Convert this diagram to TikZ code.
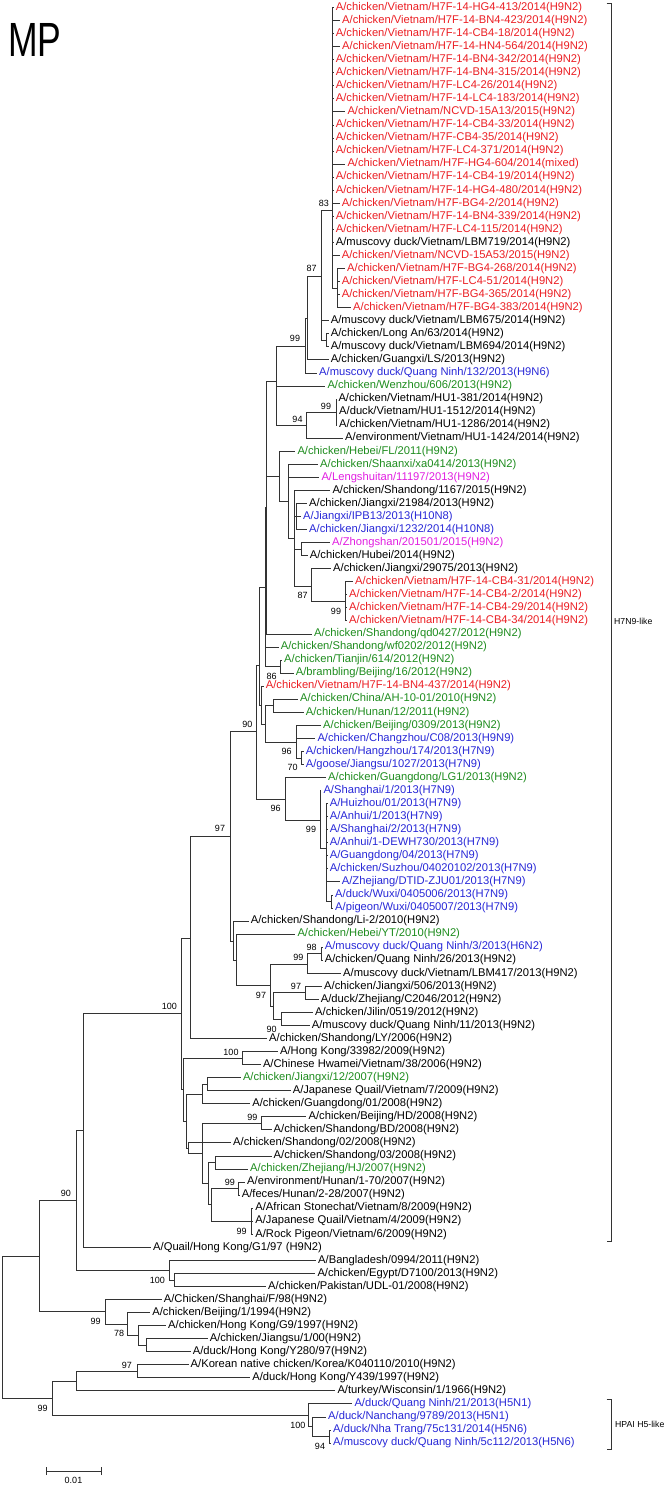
\documentclass[tikz,border=0pt]{standalone}
\usepackage{fontspec}
\setmainfont{Liberation Sans}
\definecolor{vnred}{RGB}{235,30,35}
\definecolor{vnblue}{RGB}{40,40,215}
\definecolor{vngreen}{RGB}{30,140,30}
\definecolor{vnpink}{RGB}{225,30,225}
\begin{document}
\begin{tikzpicture}[x=1pt,y=-1pt,
  br/.style={line width=0.8pt,black!80},
  leaf/.style={anchor=west,inner xsep=2pt,inner ysep=0pt,text height=8pt,text depth=2.4pt,font=\fontsize{11.2}{12}\selectfont},
  redleaf/.style={leaf,text=vnred},
  blueleaf/.style={leaf,text=vnblue},
  greenleaf/.style={leaf,text=vngreen},
  pinkleaf/.style={leaf,text=vnpink},
  bs/.style={inner sep=0pt,font=\fontsize{9}{10}\selectfont},
  clade/.style={anchor=west,inner sep=0pt,font=\fontsize{8.7}{10}\selectfont}]
\useasboundingbox (0,0) rectangle (667,1485);

\node[anchor=base west,inner sep=0pt,font=\fontsize{48}{48}\selectfont] (mp) at (8,57) {\scalebox{0.74}[1]{MP}};

% leaves
\node[redleaf] (l1) at (333.7,7.5) {A/chicken/Vietnam/H7F-14-HG4-413/2014(H9N2)};
\node[redleaf] (l2) at (340,20.55) {A/chicken/Vietnam/H7F-14-BN4-423/2014(H9N2)};
\node[redleaf] (l3) at (333.7,33.6) {A/chicken/Vietnam/H7F-14-CB4-18/2014(H9N2)};
\node[redleaf] (l4) at (340,46.65) {A/chicken/Vietnam/H7F-14-HN4-564/2014(H9N2)};
\node[redleaf] (l5) at (333.7,59.7) {A/chicken/Vietnam/H7F-14-BN4-342/2014(H9N2)};
\node[redleaf] (l6) at (333.7,72.75) {A/chicken/Vietnam/H7F-14-BN4-315/2014(H9N2)};
\node[redleaf] (l7) at (333.7,85.8) {A/chicken/Vietnam/H7F-LC4-26/2014(H9N2)};
\node[redleaf] (l8) at (333.7,98.85) {A/chicken/Vietnam/H7F-14-LC4-183/2014(H9N2)};
\node[redleaf] (l9) at (345.3,111.9) {A/chicken/Vietnam/NCVD-15A13/2015(H9N2)};
\node[redleaf] (l10) at (333.7,124.95) {A/chicken/Vietnam/H7F-14-CB4-33/2014(H9N2)};
\node[redleaf] (l11) at (333.7,138) {A/chicken/Vietnam/H7F-CB4-35/2014(H9N2)};
\node[redleaf] (l12) at (333.7,151.05) {A/chicken/Vietnam/H7F-LC4-371/2014(H9N2)};
\node[redleaf] (l13) at (345.3,164.1) {A/chicken/Vietnam/H7F-HG4-604/2014(mixed)};
\node[redleaf] (l14) at (333.7,177.15) {A/chicken/Vietnam/H7F-14-CB4-19/2014(H9N2)};
\node[redleaf] (l15) at (333.7,190.2) {A/chicken/Vietnam/H7F-14-HG4-480/2014(H9N2)};
\node[redleaf] (l16) at (339.7,203.25) {A/chicken/Vietnam/H7F-BG4-2/2014(H9N2)};
\node[redleaf] (l17) at (333.7,216.3) {A/chicken/Vietnam/H7F-14-BN4-339/2014(H9N2)};
\node[redleaf] (l18) at (333.7,229.35) {A/chicken/Vietnam/H7F-LC4-115/2014(H9N2)};
\node[leaf] (l19) at (333.7,242.4) {A/muscovy duck/Vietnam/LBM719/2014(H9N2)};
\node[redleaf] (l20) at (339.7,255.45) {A/chicken/Vietnam/NCVD-15A53/2015(H9N2)};
\node[redleaf] (l21) at (345,268.5) {A/chicken/Vietnam/H7F-BG4-268/2014(H9N2)};
\node[redleaf] (l22) at (339.7,281.55) {A/chicken/Vietnam/H7F-LC4-51/2014(H9N2)};
\node[redleaf] (l23) at (339.7,294.6) {A/chicken/Vietnam/H7F-BG4-365/2014(H9N2)};
\node[redleaf] (l24) at (351,307.65) {A/chicken/Vietnam/H7F-BG4-383/2014(H9N2)};
\node[leaf] (l25) at (328.7,320.7) {A/muscovy duck/Vietnam/LBM675/2014(H9N2)};
\node[leaf] (l26) at (328.7,333.75) {A/chicken/Long An/63/2014(H9N2)};
\node[leaf] (l27) at (328.7,346.8) {A/muscovy duck/Vietnam/LBM694/2014(H9N2)};
\node[leaf] (l28) at (328.7,359.85) {A/chicken/Guangxi/LS/2013(H9N2)};
\node[blueleaf] (l29) at (317,372.9) {A/muscovy duck/Quang Ninh/132/2013(H9N6)};
\node[greenleaf] (l30) at (325.3,385.95) {A/chicken/Wenzhou/606/2013(H9N2)};
\node[leaf] (l31) at (336.3,399) {A/chicken/Vietnam/HU1-381/2014(H9N2)};
\node[leaf] (l32) at (337,412.05) {A/duck/Vietnam/HU1-1512/2014(H9N2)};
\node[leaf] (l33) at (337,425.1) {A/chicken/Vietnam/HU1-1286/2014(H9N2)};
\node[leaf] (l34) at (343,438.15) {A/environment/Vietnam/HU1-1424/2014(H9N2)};
\node[greenleaf] (l35) at (295.3,451.2) {A/chicken/Hebei/FL/2011(H9N2)};
\node[greenleaf] (l36) at (318,464.25) {A/chicken/Shaanxi/xa0414/2013(H9N2)};
\node[pinkleaf] (l37) at (319.3,477.3) {A/Lengshuitan/11197/2013(H9N2)};
\node[leaf] (l38) at (330.3,490.35) {A/chicken/Shandong/1167/2015(H9N2)};
\node[leaf] (l39) at (307,503.4) {A/chicken/Jiangxi/21984/2013(H9N2)};
\node[blueleaf] (l40) at (301,516.45) {A/Jiangxi/IPB13/2013(H10N8)};
\node[blueleaf] (l41) at (307,529.5) {A/chicken/Jiangxi/1232/2014(H10N8)};
\node[pinkleaf] (l42) at (330,542.55) {A/Zhongshan/201501/2015(H9N2)};
\node[leaf] (l43) at (307.7,555.6) {A/chicken/Hubei/2014(H9N2)};
\node[leaf] (l44) at (331,568.65) {A/chicken/Jiangxi/29075/2013(H9N2)};
\node[redleaf] (l45) at (353,581.7) {A/chicken/Vietnam/H7F-14-CB4-31/2014(H9N2)};
\node[redleaf] (l46) at (347,594.75) {A/chicken/Vietnam/H7F-14-CB4-2/2014(H9N2)};
\node[redleaf] (l47) at (347,607.8) {A/chicken/Vietnam/H7F-14-CB4-29/2014(H9N2)};
\node[redleaf] (l48) at (347,620.85) {A/chicken/Vietnam/H7F-14-CB4-34/2014(H9N2)};
\node[greenleaf] (l49) at (312,633.9) {A/chicken/Shandong/qd0427/2012(H9N2)};
\node[greenleaf] (l50) at (278.7,646.95) {A/chicken/Shandong/wf0202/2012(H9N2)};
\node[greenleaf] (l51) at (282,660) {A/chicken/Tianjin/614/2012(H9N2)};
\node[greenleaf] (l52) at (293.7,673.05) {A/brambling/Beijing/16/2012(H9N2)};
\node[redleaf] (l53) at (263.7,686.1) {A/chicken/Vietnam/H7F-14-BN4-437/2014(H9N2)};
\node[greenleaf] (l54) at (298,699.15) {A/chicken/China/AH-10-01/2010(H9N2)};
\node[greenleaf] (l55) at (303.7,712.2) {A/chicken/Hunan/12/2011(H9N2)};
\node[greenleaf] (l56) at (321,725.25) {A/chicken/Beijing/0309/2013(H9N2)};
\node[blueleaf] (l57) at (315.3,738.3) {A/chicken/Changzhou/C08/2013(H9N9)};
\node[blueleaf] (l58) at (303.7,751.35) {A/chicken/Hangzhou/174/2013(H7N9)};
\node[blueleaf] (l59) at (303.7,764.4) {A/goose/Jiangsu/1027/2013(H7N9)};
\node[greenleaf] (l60) at (326,777.45) {A/chicken/Guangdong/LG1/2013(H9N2)};
\node[blueleaf] (l61) at (321.3,790.5) {A/Shanghai/1/2013(H7N9)};
\node[blueleaf] (l62) at (327.7,803.55) {A/Huizhou/01/2013(H7N9)};
\node[blueleaf] (l63) at (327.7,816.6) {A/Anhui/1/2013(H7N9)};
\node[blueleaf] (l64) at (327.7,829.65) {A/Shanghai/2/2013(H7N9)};
\node[blueleaf] (l65) at (327.7,842.7) {A/Anhui/1-DEWH730/2013(H7N9)};
\node[blueleaf] (l66) at (327.7,855.75) {A/Guangdong/04/2013(H7N9)};
\node[blueleaf] (l67) at (327.7,868.8) {A/chicken/Suzhou/04020102/2013(H7N9)};
\node[blueleaf] (l68) at (339.7,881.85) {A/Zhejiang/DTID-ZJU01/2013(H7N9)};
\node[blueleaf] (l69) at (333,894.9) {A/duck/Wuxi/0405006/2013(H7N9)};
\node[blueleaf] (l70) at (333,907.95) {A/pigeon/Wuxi/0405007/2013(H7N9)};
\node[leaf] (l71) at (248.7,921) {A/chicken/Shandong/Li-2/2010(H9N2)};
\node[greenleaf] (l72) at (295.3,934.05) {A/chicken/Hebei/YT/2010(H9N2)};
\node[blueleaf] (l73) at (322.7,947.1) {A/muscovy duck/Quang Ninh/3/2013(H6N2)};
\node[leaf] (l74) at (322.7,960.15) {A/chicken/Quang Ninh/26/2013(H9N2)};
\node[leaf] (l75) at (341,973.2) {A/muscovy duck/Vietnam/LBM417/2013(H9N2)};
\node[leaf] (l76) at (322,986.25) {A/chicken/Jiangxi/506/2013(H9N2)};
\node[leaf] (l77) at (318.7,999.3) {A/duck/Zhejiang/C2046/2012(H9N2)};
\node[leaf] (l78) at (313,1012.35) {A/chicken/Jilin/0519/2012(H9N2)};
\node[leaf] (l79) at (309.7,1025.4) {A/muscovy duck/Quang Ninh/11/2013(H9N2)};
\node[leaf] (l80) at (267,1038.45) {A/chicken/Shandong/LY/2006(H9N2)};
\node[leaf] (l81) at (277.9,1051.5) {A/Hong Kong/33982/2009(H9N2)};
\node[leaf] (l82) at (260.8,1064.55) {A/Chinese Hwamei/Vietnam/38/2006(H9N2)};
\node[greenleaf] (l83) at (240.8,1077.6) {A/chicken/Jiangxi/12/2007(H9N2)};
\node[leaf] (l84) at (290.6,1090.65) {A/Japanese Quail/Vietnam/7/2009(H9N2)};
\node[leaf] (l85) at (250.2,1103.7) {A/chicken/Guangdong/01/2008(H9N2)};
\node[leaf] (l86) at (306.4,1116.75) {A/chicken/Beijing/HD/2008(H9N2)};
\node[leaf] (l87) at (271.5,1129.8) {A/chicken/Shandong/BD/2008(H9N2)};
\node[leaf] (l88) at (231,1142.85) {A/chicken/Shandong/02/2008(H9N2)};
\node[leaf] (l89) at (271.5,1155.9) {A/chicken/Shandong/03/2008(H9N2)};
\node[greenleaf] (l90) at (248,1168.95) {A/chicken/Zhejiang/HJ/2007(H9N2)};
\node[leaf] (l91) at (245,1182) {A/environment/Hunan/1-70/2007(H9N2)};
\node[leaf] (l92) at (239.6,1195.05) {A/feces/Hunan/2-28/2007(H9N2)};
\node[leaf] (l93) at (253.2,1208.1) {A/African Stonechat/Vietnam/8/2009(H9N2)};
\node[leaf] (l94) at (253.2,1221.15) {A/Japanese Quail/Vietnam/4/2009(H9N2)};
\node[leaf] (l95) at (253.2,1234.2) {A/Rock Pigeon/Vietnam/6/2009(H9N2)};
\node[leaf] (l96) at (151,1247.25) {A/Quail/Hong Kong/G1/97 (H9N2)};
\node[leaf] (l97) at (316,1260.3) {A/Bangladesh/0994/2011(H9N2)};
\node[leaf] (l98) at (315.3,1273.35) {A/chicken/Egypt/D7100/2013(H9N2)};
\node[leaf] (l99) at (266,1286.4) {A/chicken/Pakistan/UDL-01/2008(H9N2)};
\node[leaf] (l100) at (161.7,1299.45) {A/Chicken/Shanghai/F/98(H9N2)};
\node[leaf] (l101) at (150.2,1312.5) {A/chicken/Beijing/1/1994(H9N2)};
\node[leaf] (l102) at (166,1325.55) {A/chicken/Hong Kong/G9/1997(H9N2)};
\node[leaf] (l103) at (207.6,1338.6) {A/chicken/Jiangsu/1/00(H9N2)};
\node[leaf] (l104) at (190.6,1351.65) {A/duck/Hong Kong/Y280/97(H9N2)};
\node[leaf] (l105) at (188.5,1364.7) {A/Korean native chicken/Korea/K040110/2010(H9N2)};
\node[leaf] (l106) at (250.2,1377.75) {A/duck/Hong Kong/Y439/1997(H9N2)};
\node[leaf] (l107) at (335.3,1390.8) {A/turkey/Wisconsin/1/1966(H9N2)};
\node[blueleaf] (l108) at (352.3,1403.85) {A/duck/Quang Ninh/21/2013(H5N1)};
\node[blueleaf] (l109) at (326,1416.9) {A/duck/Nanchang/9789/2013(H5N1)};
\node[blueleaf] (l110) at (331,1429.95) {A/duck/Nha Trang/75c131/2014(H5N6)};
\node[blueleaf] (l111) at (331,1443) {A/muscovy duck/Quang Ninh/5c112/2013(H5N6)};

% inner nodes
\coordinate (P) at (332,210.7);
\coordinate (S21) at (337.3,288.1);
\coordinate (Q) at (326.7,340.3);
\coordinate (n83) at (321.7,276);
\coordinate (n87) at (307.3,318.3);
\coordinate (n99a) at (305,346);
\coordinate (n99b) at (336,412);
\coordinate (n94) at (306.7,425);
\coordinate (ntop) at (276,381.7);
\coordinate (nJX) at (296.5,516.5);
\coordinate (nZH) at (301.7,549);
\coordinate (nCB) at (345,601.3);
\coordinate (n87b) at (311.7,586);
\coordinate (nE) at (294,538);
\coordinate (nF) at (288.3,501);
\coordinate (nG) at (279.3,476);
\coordinate (nB1) at (266.7,507.5);
\coordinate (n86) at (280.7,666.5);
\coordinate (nB2) at (265,587);
\coordinate (n5455) at (273.3,705.7);
\coordinate (n70) at (301.7,757.9);
\coordinate (n96a) at (296.7,742);
\coordinate (nN) at (265,724);
\coordinate (nM) at (261.7,705);
\coordinate (nL) at (259.3,665);
\coordinate (nB69) at (331,901.4);
\coordinate (nA) at (326,848);
\coordinate (n99c) at (320,820);
\coordinate (n96b) at (285,799.3);
\coordinate (n90a) at (256.7,731.7);
\coordinate (n7374) at (321,953.6);
\coordinate (n99d) at (307.7,964);
\coordinate (n97c) at (305.7,992.8);
\coordinate (n90c) at (281.7,1018.9);
\coordinate (nX) at (273.3,1006);
\coordinate (n97b) at (270.7,985);
\coordinate (nW1) at (236.7,960);
\coordinate (nW) at (233.3,941.7);
\coordinate (n97a) at (230,836.7);
\coordinate (nV) at (190.7,938);
\coordinate (nHK) at (242.6,1058);
\coordinate (nJQ) at (207.2,1084.1);
\coordinate (nT) at (202.1,1094);
\coordinate (nHD) at (261.7,1123.3);
\coordinate (nZJ) at (214.9,1162.4);
\coordinate (nHu) at (238.3,1188.5);
\coordinate (nTri) at (251,1221.2);
\coordinate (nGg) at (211.5,1204.8);
\coordinate (nFf) at (208.5,1183.6);
\coordinate (nS) at (202.1,1153.5);
\coordinate (nU) at (188.5,1148);
\coordinate (nR) at (186,1121);
\coordinate (nQ) at (183,1089.5);
\coordinate (n100a) at (181,1013.3);
\coordinate (nG1) at (83,1130.3);
\coordinate (nBE) at (174.5,1279.9);
\coordinate (n100b) at (169,1270.1);
\coordinate (nBg) at (76.6,1200.2);
\coordinate (nJY) at (146,1345.1);
\coordinate (n78) at (138.3,1335.3);
\coordinate (nBJ) at (127.7,1323.9);
\coordinate (n99e) at (105.5,1311.7);
\coordinate (n90r) at (39.1,1256);
\coordinate (n97o) at (137,1371.2);
\coordinate (nTK) at (76.6,1381);
\coordinate (nNT) at (329.8,1436.5);
\coordinate (nNC) at (312.8,1426.7);
\coordinate (n100h) at (308.5,1415.3);
\coordinate (n99o) at (52.3,1398.2);
\coordinate (root) at (2.1,1327);

% branches
\foreach \p/\c in {P/l1.west,P/l2.west,P/l3.west,P/l4.west,P/l5.west,P/l6.west,P/l7.west,
  P/l8.west,P/l9.west,P/l10.west,P/l11.west,P/l12.west,P/l13.west,P/l14.west,P/l15.west,
  P/l16.west,P/l17.west,P/l18.west,P/l19.west,P/l20.west,P/S21,
  S21/l21.west,S21/l22.west,S21/l23.west,S21/l24.west,
  n83/P,n83/l25.west,n83/Q,Q/l26.west,Q/l27.west,
  n87/n83,n87/l28.west,n99a/n87,n99a/l29.west,
  n99b/l31.west,n99b/l32.west,n99b/l33.west,n94/n99b,n94/l34.west,
  ntop/n99a,ntop/l30.west,ntop/n94,
  nJX/l39.west,nJX/l40.west,nJX/l41.west,nZH/l42.west,nZH/l43.west,
  nCB/l45.west,nCB/l46.west,nCB/l47.west,nCB/l48.west,n87b/l44.west,n87b/nCB,
  nE/l38.west,nE/nJX,nE/nZH,nE/n87b,nF/l36.west,nF/l37.west,nF/nE,
  nG/l35.west,nG/nF,nB1/ntop,nB1/nG,nB1/l49.west,
  n86/l51.west,n86/l52.west,nB2/nB1,nB2/l50.west,nB2/n86,
  n5455/l54.west,n5455/l55.west,n70/l58.west,n70/l59.west,
  n96a/l56.west,n96a/l57.west,n96a/n70,nN/n5455,nN/n96a,
  nM/l53.west,nM/nN,nL/nB2,nL/nM,
  nB69/l69.west,nB69/l70.west,nA/l62.west,nA/l63.west,nA/l64.west,nA/l65.west,
  nA/l66.west,nA/l67.west,nA/l68.west,nA/nB69,n99c/l61.west,n99c/nA,
  n96b/l60.west,n96b/n99c,n90a/nL,n90a/n96b,
  n7374/l73.west,n7374/l74.west,n99d/n7374,n99d/l75.west,
  n97c/l76.west,n97c/l77.west,n90c/l78.west,n90c/l79.west,nX/n97c,nX/n90c,
  n97b/n99d,n97b/nX,nW1/l72.west,nW1/n97b,nW/l71.west,nW/nW1,
  n97a/n90a,n97a/nW,nV/n97a,nV/l80.west,
  nHK/l81.west,nHK/l82.west,nJQ/l83.west,nJQ/l84.west,nT/nJQ,nT/l85.west,
  nHD/l86.west,nHD/l87.west,nZJ/l89.west,nZJ/l90.west,nHu/l91.west,nHu/l92.west,
  nTri/l93.west,nTri/l94.west,nTri/l95.west,nGg/nHu,nGg/nTri,nFf/nZJ,nFf/nGg,
  nS/nHD,nS/nFf,nU/l88.west,nU/nS,nR/nT,nR/nU,nQ/nHK,nQ/nR,
  n100a/nV,n100a/nQ,nG1/n100a,nG1/l96.west,
  nBE/l98.west,nBE/l99.west,n100b/l97.west,n100b/nBE,nBg/nG1,nBg/n100b,
  nJY/l103.west,nJY/l104.west,n78/l102.west,n78/nJY,nBJ/l101.west,nBJ/n78,
  n99e/l100.west,n99e/nBJ,n90r/nBg,n90r/n99e,
  n97o/l105.west,n97o/l106.west,nTK/n97o,nTK/l107.west,
  nNT/l110.west,nNT/l111.west,nNC/l109.west,nNC/nNT,n100h/l108.west,n100h/nNC,
  n99o/nTK,n99o/n100h,root/n90r,root/n99o}
  \draw[br] (\p) |- (\c);

% bootstrap values
\node[bs] (b1) at (323.8,203.3) {83};
\node[bs] (b2) at (311.7,268.3) {87};
\node[bs] (b3) at (295,338.3) {99};
\node[bs] (b4) at (326,406) {99};
\node[bs] (b5) at (297.5,419) {94};
\node[bs] (b6) at (302.7,595.7) {87};
\node[bs] (b7) at (336,611.7) {99};
\node[bs] (b8) at (271.7,676.7) {86};
\node[bs] (b9) at (247.3,724.3) {90};
\node[bs] (b10) at (286.7,751.7) {96};
\node[bs] (b11) at (292.7,767) {70};
\node[bs] (b12) at (275.7,808) {96};
\node[bs] (b13) at (311,829) {99};
\node[bs] (b14) at (220,828.7) {97};
\node[bs] (b15) at (311.7,947.3) {98};
\node[bs] (b16) at (298.3,957.3) {99};
\node[bs] (b17) at (296,986.7) {97};
\node[bs] (b18) at (261,995) {97};
\node[bs] (b19) at (271.7,1029.3) {90};
\node[bs] (b20) at (169.3,1006) {100};
\node[bs] (b21) at (231,1052.3) {100};
\node[bs] (b22) at (252.3,1117.3) {99};
\node[bs] (b23) at (229.8,1182.7) {99};
\node[bs] (b24) at (241.7,1231) {99};
\node[bs] (b25) at (66,1193.3) {90};
\node[bs] (b26) at (157.4,1280) {100};
\node[bs] (b27) at (95.7,1321.7) {99};
\node[bs] (b28) at (119.1,1333.3) {78};
\node[bs] (b29) at (126.8,1365) {97};
\node[bs] (b30) at (42.6,1408.3) {99};
\node[bs] (b31) at (297.9,1425.7) {100};
\node[bs] (b32) at (320,1446.7) {94};

% clade brackets
\draw[br] (606.5,3) -- (611,3) -- (611,1241) -- (606.5,1241);
\node[clade] (h7) at (614,621.7) {H7N9-like};
\draw[br] (606.5,1399.3) -- (611,1399.3) -- (611,1449.3) -- (606.5,1449.3);
\node[clade] (h5) at (615,1424) {HPAI H5-like};

% scale bar
\coordinate (sb1) at (46,1471);
\coordinate (sb2) at (101,1471);
\draw[br] (sb1) -- (sb2);
\draw[br] ([yshift=-4pt]sb1) -- ([yshift=4pt]sb1);
\draw[br] ([yshift=-4pt]sb2) -- ([yshift=4pt]sb2);
\node[bs] (sbl) at (73.5,1480) {0.01};
\end{tikzpicture}
\end{document}
